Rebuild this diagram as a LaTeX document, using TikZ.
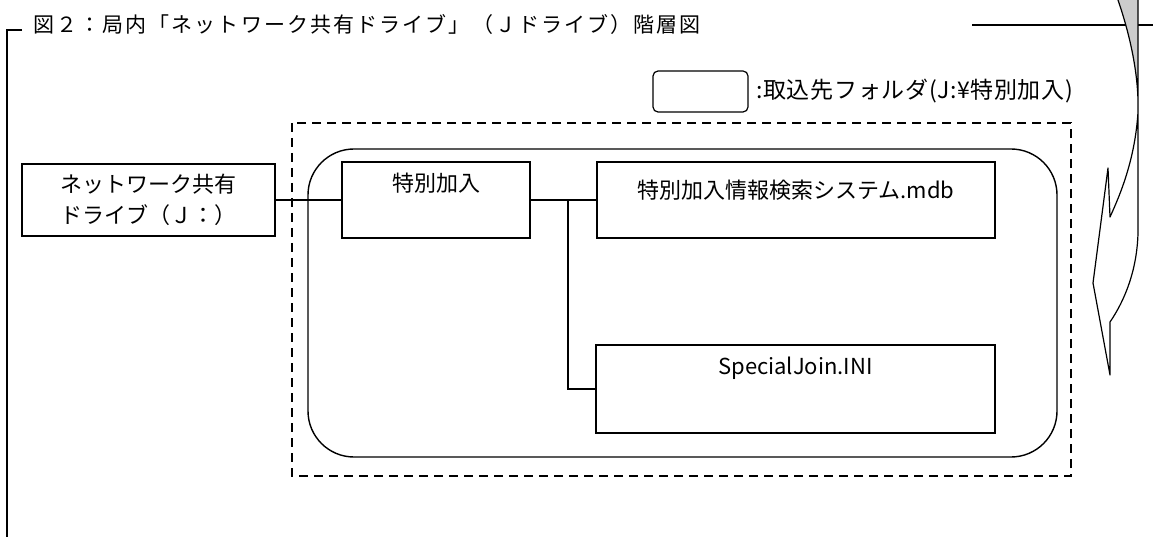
\documentclass[tikz,border=0pt]{standalone}
\usepackage{fontspec}
\setmainfont{Noto Sans CJK JP}
\newfontfamily\titlefont[LetterSpace=10]{Noto Sans CJK JP}
\newfontfamily\legfont[LetterSpace=3]{Noto Sans CJK JP}
\begin{document}
\begin{tikzpicture}[x=1pt,y=-1pt,
  box/.style={draw, line width=1.4pt, rectangle, inner xsep=0pt, inner ysep=0pt},
  lbl/.style={font=\fontsize{22}{31}\selectfont},
  conn/.style={line width=1.4pt},
  frameline/.style={line width=1.4pt},
  arrowline/.style={line width=1.2pt, line join=round}
]
\useasboundingbox (0,0) rectangle (1153,537);

% frame and title
\draw[frameline] (22,30) -- (7,30) -- (7,537);
\draw[frameline] (972,25) -- (1153,25);
\node[anchor=west, inner sep=0pt, font=\titlefont\fontsize{21}{21}\selectfont] (title) at (33,25)
  {図２：局内「ネットワーク共有ドライブ」（Ｊドライブ）階層図};

% legend
\node[draw, rounded corners=5pt, line width=1.2pt, minimum width=95pt, minimum height=41pt, inner sep=0pt] (leg) at (700.5,91.5) {};
\node[anchor=west, inner sep=0pt, font=\legfont\fontsize{23}{23}\selectfont] (legtext) at (756,91) {:取込先フォルダ(J:¥特別加入)};

% containers
\draw[line width=1.8pt, dash pattern=on 9pt off 6pt] (292,123) rectangle (1071,476);
\draw[line width=1.4pt, rounded corners=46pt] (308,149) rectangle (1057,457);

% boxes
\node[box, lbl, align=center, minimum width=253pt, minimum height=72pt] (net) at (148.5,200)
  {ネットワーク共有\\ドライブ（Ｊ：）};
\node[box, lbl, minimum width=188pt, text height=30pt, text depth=46pt] (tok) at (436,200) {特別加入};
\node[box, lbl, minimum width=398pt, text height=37pt, text depth=39pt] (mdb) at (796,200) {特別加入情報検索システム.mdb};
\node[box, lbl, minimum width=399pt, text height=29pt, text depth=59pt] (sj) at (795.5,389) {SpecialJoin.INI};

% connectors
\coordinate (jn) at (568,200);
\draw[conn] (net.east) -- (tok.west);
\draw[conn] (tok.east) -- (mdb.west);
\draw[conn] (jn) |- (sj.west);

% curved hollow arrow at right
\fill[gray!40] (1118,0) .. controls (1130,35) and (1139,75) .. (1138,112) -- (1138,0) -- cycle;
\draw[arrowline] (1118,0) .. controls (1130,35) and (1139,75) .. (1138,112)
  .. controls (1135,160) and (1120,195) .. (1110,217)
  -- (1108,168) -- (1093,283) -- (1110,375) -- (1110,322)
  .. controls (1125,300) and (1137,270) .. (1138,233) -- (1138,0);
\end{tikzpicture}
\end{document}
